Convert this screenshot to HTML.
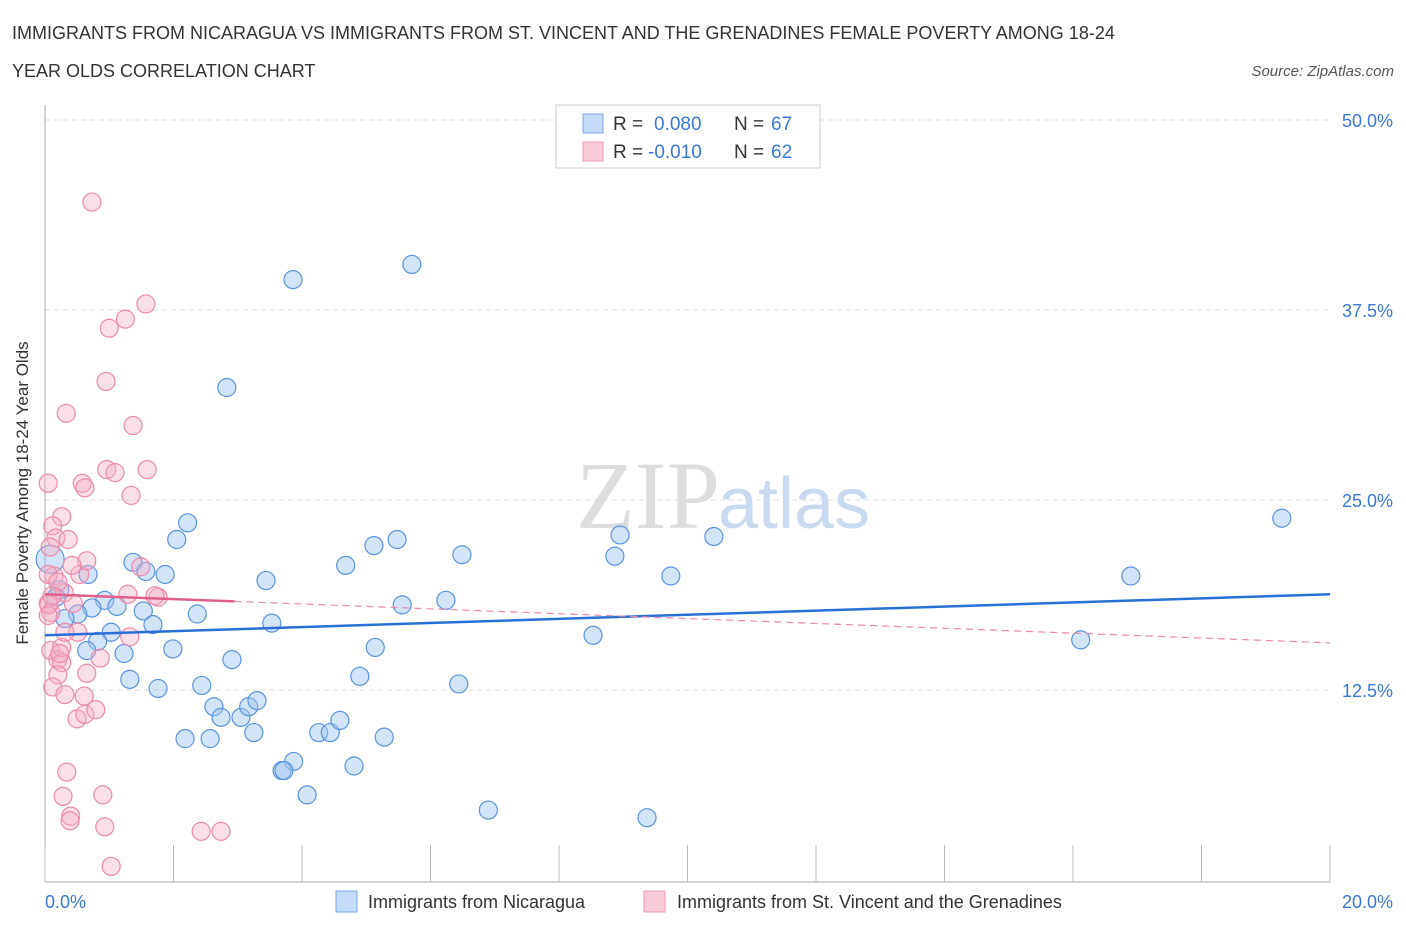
<!DOCTYPE html>
<html><head><meta charset="utf-8"><style>
body{margin:0;background:#fff;font-family:"Liberation Sans",sans-serif;}
</style></head><body>
<svg width="1406" height="930" xmlns="http://www.w3.org/2000/svg" font-family="Liberation Sans, sans-serif">
<text x="12" y="39" font-size="18" fill="#333">IMMIGRANTS FROM NICARAGUA VS IMMIGRANTS FROM ST. VINCENT AND THE GRENADINES FEMALE POVERTY AMONG 18-24</text>
<text x="12" y="77" font-size="18" fill="#333">YEAR OLDS CORRELATION CHART</text>
<text x="1394" y="76" font-size="15" font-style="italic" fill="#555" text-anchor="end">Source: ZipAtlas.com</text>
<g id="grid"></g>
<text x="720" y="528" font-size="96" font-family="Liberation Serif, serif" fill="#ddd" text-anchor="end">ZIP</text>
<text x="718" y="528" font-size="72" fill="#c9daf0">atlas</text>
<line x1="45" y1="105" x2="45" y2="882" stroke="#aaa"/>
<line x1="45" y1="882" x2="1330" y2="882" stroke="#aaa"/>
<g id="xticks"></g>
<g id="pts"></g>
<g id="trends"></g>
<text x="28" y="493" font-size="17" fill="#333" text-anchor="middle" transform="rotate(-90 28 493)">Female Poverty Among 18-24 Year Olds</text>
<text x="45" y="908" font-size="18" fill="#3a78d8">0.0%</text>
<text x="1393" y="908" font-size="18" fill="#3a78d8" text-anchor="end">20.0%</text>
<g>
<rect x="556" y="105" width="264" height="63" fill="#fff" stroke="#ccc"/>
<rect x="583" y="114" width="20" height="19" fill="#c5dbf7" stroke="#7aa6e6"/>
<rect x="583" y="142" width="20" height="19" fill="#f9cbd9" stroke="#ee9ab3"/>
<text x="613" y="130" font-size="19" fill="#333">R = </text><text x="654" y="130" font-size="19" fill="#3a78d8">0.080</text>
<text x="734" y="130" font-size="19" fill="#333">N = </text><text x="771" y="130" font-size="19" fill="#3a78d8">67</text>
<text x="613" y="158" font-size="19" fill="#333">R = </text><text x="648" y="158" font-size="19" fill="#3a78d8">-0.010</text>
<text x="734" y="158" font-size="19" fill="#333">N = </text><text x="771" y="158" font-size="19" fill="#3a78d8">62</text>
</g>
<g>
<rect x="336" y="891" width="21" height="21" fill="#c5dbf7" stroke="#7aa6e6"/>
<text x="368" y="908" font-size="18" fill="#333">Immigrants from Nicaragua</text>
<rect x="644" y="891" width="21" height="21" fill="#f9cbd9" stroke="#ee9ab3"/>
<text x="677" y="908" font-size="18" fill="#333">Immigrants from St. Vincent and the Grenadines</text>
</g>
</svg>
<script>
const yTicks=[12.5,25,37.5,50];
const yTickLabels=["12.5%","25.0%","37.5%","50.0%"];
const xTicks=[0,2,4,6,8,10,12,14,16,18,20];
const blueX=[3.86,5.71,2.83,2.22,2.05,1.37,1.57,1.87,3.44,4.68,5.12,5.48,6.49,8.95,8.87,10.41,9.74,19.25,16.9,16.12,0.93,1.12,0.73,0.51,0.31,0.23,0.17,0.08,1.53,1.68,2.37,3.53,5.56,6.24,1.03,0.82,0.65,1.23,1.99,2.91,5.14,8.53,1.32,1.76,2.44,2.63,2.74,3.05,3.17,3.3,4.9,6.44,2.18,2.57,3.25,4.26,4.44,4.59,5.28,3.87,3.69,3.72,4.81,4.08,6.9,9.37,0.67];
const blueY=[39.5,40.5,32.4,23.5,22.4,20.9,20.3,20.1,19.7,20.7,22.0,22.4,21.4,22.7,21.3,22.6,20.0,23.8,20.0,15.8,18.4,18.0,17.9,17.5,17.2,19.1,18.6,21.1,17.7,16.8,17.5,16.9,18.1,18.4,16.3,15.7,15.1,14.9,15.2,14.5,15.3,16.1,13.2,12.6,12.8,11.4,10.7,10.7,11.4,11.8,13.4,12.9,9.3,9.3,9.7,9.7,9.7,10.5,9.4,7.8,7.2,7.2,7.5,5.6,4.6,4.1,20.1];
const pinkX=[0.73,1.57,1.25,1.0,0.95,0.33,1.37,1.59,0.96,1.09,0.58,0.62,0.05,1.34,0.26,0.12,0.17,0.36,0.08,0.14,0.54,0.65,0.42,0.05,0.09,1.76,1.29,1.49,0.51,1.32,0.09,0.2,0.26,0.26,0.23,0.86,0.65,0.2,0.12,0.31,0.61,0.5,0.62,0.79,0.06,0.34,0.28,0.9,0.4,0.39,0.93,2.43,2.74,1.03,0.05,0.3,0.44,1.71,0.05,0.31,0.2,0.11];
const pinkY=[44.6,37.9,36.9,36.3,32.8,30.7,29.9,27.0,27.0,26.8,26.1,25.8,26.1,25.3,23.9,23.3,22.5,22.4,21.9,20.0,20.1,21.0,20.7,18.2,17.6,18.6,18.8,20.6,16.3,16.0,15.1,14.5,14.3,15.3,14.9,14.6,13.6,13.5,12.7,12.2,12.1,10.6,10.9,11.2,18.1,7.1,5.5,5.6,4.2,3.9,3.5,3.2,3.2,0.9,20.1,18.9,18.2,18.7,17.4,16.3,19.6,18.7];
const blueTrend=[16.1,18.8]; // y at x=0 and x=20
const pinkTrend=[18.8,15.6];
const pinkSolidEnd=2.95;
const NS="http://www.w3.org/2000/svg";
const X=v=>45+v/20*1285, Y=v=>880-v/50*760;
function mk(t,a,p){const e=document.createElementNS(NS,t);for(const k in a)e.setAttribute(k,a[k]);p.appendChild(e);return e;}
const grid=document.getElementById('grid');
yTicks.forEach((t,i)=>{
 const l=mk('line',{x1:45,x2:1330,y1:Y(t),y2:Y(t),stroke:'#ddd','stroke-dasharray':'5,4'},grid);
 
 
 const tx=mk('text',{x:1393,y:Y(t)+7,'font-size':18,fill:'#3a78d8','text-anchor':'end'},grid);
 tx.textContent=yTickLabels[i];
 
 
});
const xt=document.getElementById('xticks');
xTicks.forEach(t=>{
 const l=mk('line',{x1:X(t),x2:X(t),y1:845,y2:882,stroke:'#bbb'},xt);
 
 
});
const pts=document.getElementById('pts');
blueX.forEach((x,i)=>{
 const c=mk('circle',{cx:X(x),cy:Y(blueY[i]),r:i==27?14:9,fill:'rgba(160,196,240,0.45)',stroke:'#5b93e0','stroke-width':1.2},pts);
 
 
});
pinkX.forEach((x,i)=>{
 const c=mk('circle',{cx:X(x),cy:Y(pinkY[i]),r:9,fill:'rgba(246,176,198,0.4)',stroke:'#ec8aa8','stroke-width':1.2},pts);
 
 
});
const tr=document.getElementById('trends');
const pAt=x=>pinkTrend[0]+(pinkTrend[1]-pinkTrend[0])*x/20;
const b=mk('line',{x1:X(0),y1:Y(blueTrend[0]),x2:X(20),y2:Y(blueTrend[1]),stroke:'#2a6fd6','stroke-width':2.5},tr);


const p1=mk('line',{x1:X(0),y1:Y(pinkTrend[0]),x2:X(pinkSolidEnd),y2:Y(pAt(pinkSolidEnd)),stroke:'#e0608a','stroke-width':2.5},tr);


const p2=mk('line',{x1:X(pinkSolidEnd),y1:Y(pAt(pinkSolidEnd)),x2:X(20),y2:Y(pinkTrend[1]),stroke:'#e88aa8','stroke-width':1.2,'stroke-dasharray':'7,5'},tr);


</script>
</body></html>
